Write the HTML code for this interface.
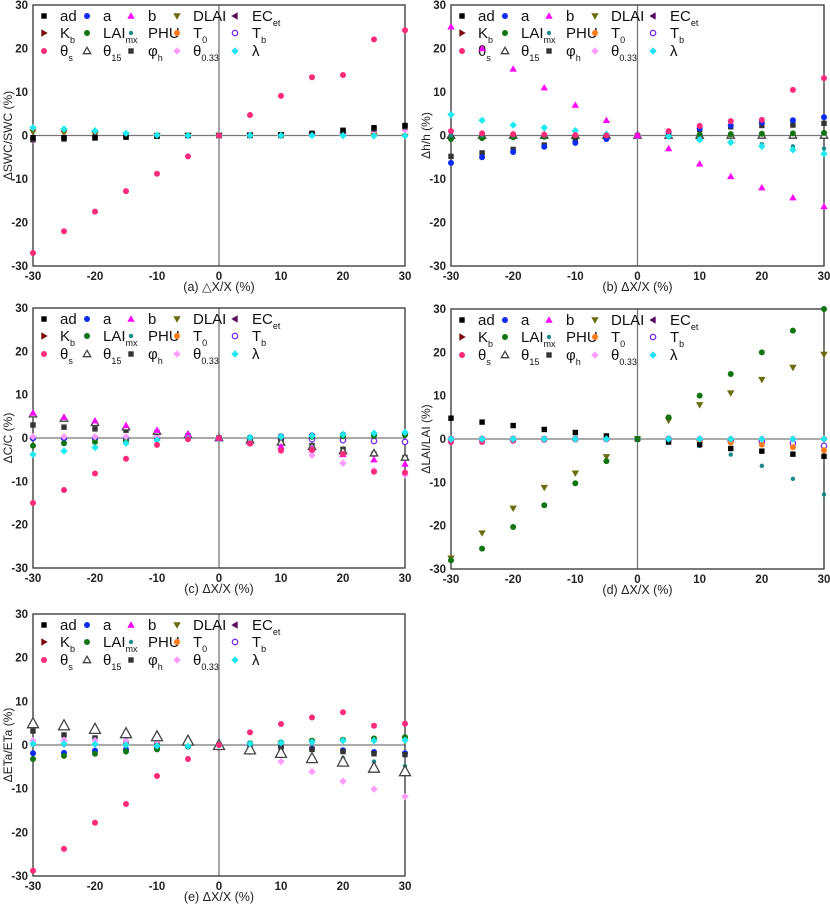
<!DOCTYPE html>
<html><head><meta charset="utf-8"><style>
body{margin:0;background:#fff;width:830px;height:905px;overflow:hidden}
svg{position:absolute;left:0;top:0}
text{font-family:"Liberation Sans",sans-serif}
</style></head><body>
<svg id="s" width="830" height="905"></svg>
<script>
const xVals=[-30,-25,-20,-15,-10,-5,0,5,10,15,20,25,30];
const yTicks=[-30,-20,-10,0,10,20,30];
const xTicks=[-30,-20,-10,0,10,20,30];
// panel (a) SWC
const a_thetaS=[-27,-22,-17.5,-12.8,-8.8,-4.8,0,4.7,9.1,13.4,13.9,22.1,24.2];
const a_ad=[-0.5,-0.5,-0.4,-0.3,-0.1,0,0,0.1,0.2,0.5,1.2,1.8,2.3];
const a_lambda=[1.8,1.5,1.1,0.5,0.1,0,0,0,0,0,0,-0.1,-0.1];
const a_phih=[-1,-0.8,-0.6,-0.4,-0.2,0,0,0,0,0.3,1,1.5,2];
const a_theta033=[-1,-0.5,-0.3,-0.2,0,0,0,0,0,0.3,0.7,1,1.2];
const a_DLAI=[0.8,0.6,0.3,0.1,0,0,0,0,0,0,0,0,-0.2];
// panel (b) h
const b_b=[25,20,15.3,11,7,3.5,0,-3,-6.5,-9.4,-12,-14.3,-16.3];
const b_thetaS=[1,0.5,0.3,0.2,0.1,0,0,1,2.2,3.3,3.6,10.5,13.2];
const b_a=[-6.3,-5,-3.8,-2.6,-1.7,-0.8,0,0.8,1.6,2.3,3,3.5,4.2];
const b_phih=[-4.8,-4,-3.2,-2.2,-1.2,-0.3,0,0.6,1.4,2,2.3,2.4,2.8];
const b_lambda=[4.8,3.5,2.4,1.8,1.1,0.3,0,-0.2,-1,-1.6,-2.5,-3.3,-4.2];
const b_PHU=[0,0,0,0,0,0,0,0,-0.6,-1.4,-2,-2.5,-3];
const b_LAImx=[-0.8,-0.6,-0.4,-0.3,-0.2,-0.1,0,0.1,0.2,0.3,0.4,0.5,0.6];
const b_theta15=[0,0,0,0,0,0,0,0,0,0,0,0,0];
// panel (c) C
const c_thetaS=[-15,-12,-8.2,-4.8,-1.6,-0.3,0,-1.3,-2.9,-2.8,-3.7,-7.8,-8];
const c_b=[5.8,4.8,4,2.9,1.8,0.9,0,-1,-2,-2.5,-3.8,-5,-6];
const c_theta15=[5.5,4.5,3.5,2.5,1.5,0.7,0,-0.5,-1,-2,-3,-3.5,-4.5];
const c_phih=[3,2.5,2.1,1.8,1.3,0.5,0,-0.3,-0.8,-1.8,-2.6,-3.7,-4.5];
const c_theta033=[0.3,0.3,0.3,0.3,0.3,0,0,-1,-1.8,-4,-5.8,-7.5,-8.5];
const c_lambda=[-3.8,-3,-2.2,-1.2,-0.5,-0.1,0,0.1,0.3,0.5,0.8,1.1,1.3];
const c_LAImx=[-1.8,-1.2,-0.9,-0.6,-0.3,-0.1,0,0.1,0.2,0.3,0.4,0.5,0.7];
const c_a=[0,0,0,0,0,0,0,0.1,0.4,0.6,0.8,0.9,1];
const c_Tb=[0,0,0,0,0,0,0,0,-0.2,-0.3,-0.5,-0.7,-0.9];
// panel (d) LAI
const d_LAImx=[-28,-25.3,-20.3,-15.3,-10.2,-5.1,0,5,10,15,20,25,30];
const d_DLAI=[-27.5,-21.7,-16,-11.2,-7.9,-4.1,0,4.3,7.9,10.6,13.7,16.5,19.5];
const d_ad=[4.8,3.9,3.1,2.2,1.5,0.7,0,-0.7,-1.3,-2.2,-2.8,-3.5,-4];
const d_PHU=[0,0,0,0,0,0,0,0,-1.6,-3.6,-6.2,-9.2,-12.8];
const d_T0=[0,0,0,0,0,0,0,0,-0.5,-0.8,-1.3,-1.9,-2.6];
const d_Tb=[0,0,0,0,0,0,0,0,-0.2,-0.4,-0.6,-1,-1.6];
const d_thetaS=[-0.7,-0.7,-0.4,-0.2,-0.1,0,0,0,0,0,0,0,0];
const d_lambda=[0,0,0,0,0,0,0,0,0,0,0,0,0];
// panel (e) ETa
const e_thetaS=[-28.8,-23.8,-17.8,-13.5,-7.1,-3.2,0,2.9,4.8,6.3,7.5,4.4,4.9];
const e_theta15=[5,4.5,3.7,2.7,2,1,0,-1,-1.8,-3,-3.8,-5.2,-6];
const e_theta033=[1,1.1,1,1,0.9,0,0,-1.6,-3.8,-6.1,-8.3,-10.1,-11.8];
const e_LAImx=[-3.2,-2.5,-2,-1.5,-1,-0.4,0,0.4,0.6,1,1.2,1.5,1.8];
const e_a=[-1.9,-1.8,-1.3,-1,-0.6,-0.2,0,0.1,-0.5,-0.8,-1.2,-1.6,-1.9];
const e_phih=[3.2,2.3,1.6,0.5,0.3,0,0,-0.3,-0.6,-1,-1.5,-2,-2.2];
const e_lambda=[0.3,0.3,0.2,0,-0.2,-0.3,0,0.3,0.5,0.7,1,1,1.1];
const e_PHU=[0,0,0,0,0,0,0,0,-0.5,-2.5,-3,-3.8,-4.8];

const NS='http://www.w3.org/2000/svg';
const svg=document.getElementById('s');
function mk(tag,at,parent){const e=document.createElementNS(NS,tag);for(const k in at)e.setAttribute(k,at[k]);(parent||svg).appendChild(e);return e;}
const sty={
 ad:['sq','#000'],a:['ci','#0a2cf0'],b:['tu','#f0f'],DLAI:['td','#6b6b10'],ECet:['tl','#5a0a5a'],
 Kb:['tr','#7a0a0a'],LAImx:['ci','#127512'],PHU:['st','#1a8a8a'],T0:['ci','#ff7a1a'],Tb:['oc','#7a2af0'],
 thetaS:['ci','#ff2a7a'],theta15:['ot','#444'],phih:['sq','#333'],theta033:['dm','#ff9cff'],lambda:['dm','#20e8f0']};
function marker(g,type,col,x,y,big){
 const r=big?4.5:2.7;
 if(type==='sq')return mk('rect',{x:x-r,y:y-r,width:2*r,height:2*r,fill:col},g);
 if(type==='ci')return mk('circle',{cx:x,cy:y,r:r+0.3,fill:col},g);
 if(type==='oc')return mk('circle',{cx:x,cy:y,r:r,fill:'#fff',stroke:col,'stroke-width':1.3},g);
 if(type==='tu')return mk('polygon',{points:`${x},${y-r-1} ${x-r-1},${y+r} ${x+r+1},${y+r}`,fill:col},g);
 if(type==='td')return mk('polygon',{points:`${x},${y+r+1} ${x-r-1},${y-r} ${x+r+1},${y-r}`,fill:col},g);
 if(type==='tl')return mk('polygon',{points:`${x-r-1},${y} ${x+r},${y-r-1} ${x+r},${y+r+1}`,fill:col},g);
 if(type==='tr')return mk('polygon',{points:`${x+r+1},${y} ${x-r},${y-r-1} ${x-r},${y+r+1}`,fill:col},g);
 if(type==='ot')return mk('polygon',{points:`${x},${y-r-1} ${x-r-1},${y+r} ${x+r+1},${y+r}`,fill:'#fff',stroke:col,'stroke-width':1.3},g);
 if(type==='dm')return mk('polygon',{points:`${x},${y-r-1} ${x+r+1},${y} ${x},${y+r+1} ${x-r-1},${y}`,fill:col},g);
 if(type==='st')return mk('circle',{cx:x,cy:y,r:r-0.5,fill:col},g);
}
const legendRows=[
 [['ad','ad'],['a','a'],['b','b'],['DLAI','DLAI'],['ECet','EC','et']],
 [['Kb','K','b'],['LAImx','LAI','mx'],['PHU','PHU'],['T0','T','0'],['Tb','T','b']],
 [['thetaS','θ','s'],['theta15','θ','15'],['phih','φ','h'],['theta033','θ','0.33'],['lambda','λ']]];
function panel(id,L,R,T,B,ytitle,label,series){
 const g=mk('g',{});
 
 
 const X=v=>L+(v+30)/60*(R-L), Y=v=>B-(v+30)/60*(B-T);
 mk('line',{x1:L,x2:R,y1:Y(0),y2:Y(0),stroke:'#777','stroke-width':1.3},g);
 mk('line',{x1:X(0),x2:X(0),y1:T,y2:B,stroke:'#777','stroke-width':1.3},g);
 mk('rect',{x:L,y:T,width:R-L,height:B-T,fill:'none',stroke:'#333','stroke-width':1.3},g);
 yTicks.forEach(v=>{const t=mk('text',{x:L-5,y:Y(v)+4,'text-anchor':'end','font-size':11.5,'font-weight':'bold',fill:'#222'},g);t.textContent=v;});
 xTicks.forEach(v=>{const t=mk('text',{x:X(v),y:B+14,'text-anchor':'middle','font-size':11.5,'font-weight':'bold',fill:'#222'},g);t.textContent=v;});
 const yt=mk('text',{x:0,y:0,transform:`translate(${L-21},${(T+B)/2}) rotate(-90)`,'text-anchor':'middle','font-size':12,fill:'#222'},g);
 yt.textContent=ytitle;
 const xt=mk('text',{x:(L+R)/2,y:B+25,'text-anchor':'middle','font-size':12.5,fill:'#222'},g);
 xt.textContent=label;
 const mo=[11,54,98,144,202],to=[27,70,115,160,219],ro=[11,28,46];
 legendRows.forEach((row,ri)=>row.forEach((it,ci)=>{
  const lg=mk('g',{},g);
  marker(lg,sty[it[0]][0],sty[it[0]][1],L+mo[ci],T+ro[ri]);
  const ff=(it[1]==='θ'||it[1]==='φ')?'"Liberation Serif",serif':'"Liberation Sans",sans-serif';
  const t=mk('text',{x:L+to[ci],y:T+ro[ri]+5,'font-size':15,fill:'#111','font-family':ff},lg);
  t.textContent=it[1];
  if(it[2]){const s=mk('tspan',{dy:5,'font-size':9},t);s.textContent=it[2];}
 }));
 series.forEach(([key,arr])=>{
  const sg=mk('g',{},g);
  arr.forEach((v,i)=>{const m=marker(sg,sty[key][0],sty[key][1],X(xVals[i]),Y(v),key==='theta15'&&id==='e');
   });
 });
}
panel('a',33,405,5,266,'ΔSWC/SWC (%)','(a) △X/X (%)',[['DLAI',a_DLAI],['theta033',a_theta033],['phih',a_phih],['ad',a_ad],['lambda',a_lambda],['thetaS',a_thetaS]]);
panel('b',451,824,5,266,'Δh/h (%)','(b) ΔX/X (%)',[['theta15',b_theta15],['LAImx',b_LAImx],['PHU',b_PHU],['phih',b_phih],['a',b_a],['lambda',b_lambda],['thetaS',b_thetaS],['b',b_b]]);
panel('c',33,405,308,568,'ΔC/C (%)','(c) ΔX/X (%)',[['Tb',c_Tb],['a',c_a],['LAImx',c_LAImx],['theta033',c_theta033],['phih',c_phih],['theta15',c_theta15],['b',c_b],['lambda',c_lambda],['thetaS',c_thetaS]]);
panel('d',451,824,309,569,'ΔLAI/LAI (%)','(d) ΔX/X (%)',[['thetaS',d_thetaS],['Tb',d_Tb],['T0',d_T0],['PHU',d_PHU],['ad',d_ad],['lambda',d_lambda],['DLAI',d_DLAI],['LAImx',d_LAImx]]);
panel('e',33,405,614,876,'ΔETa/ETa (%)','(e) ΔX/X (%)',[['PHU',e_PHU],['a',e_a],['LAImx',e_LAImx],['phih',e_phih],['theta033',e_theta033],['theta15',e_theta15],['lambda',e_lambda],['thetaS',e_thetaS]]);
</script>
</body></html>
